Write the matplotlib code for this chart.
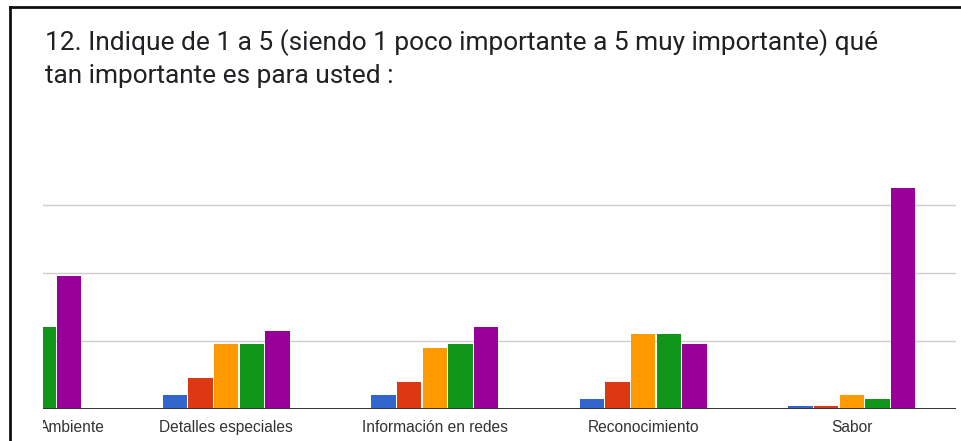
import matplotlib

matplotlib.use("Agg")
import matplotlib.pyplot as plt  # noqa: E402
import matplotlib.transforms as mtransforms  # noqa: E402
import numpy as np  # noqa: E402
from matplotlib.lines import Line2D  # noqa: E402

TITLE_LINES = [
    "12. Indique de 1 a 5 (siendo 1 poco importante a 5 muy importante) qué",
    "tan importante es para usted :",
]
CATEGORIES = ["Ambiente", "Detalles especiales", "Información en redes", "Reconocimiento", "Sabor"]
RATINGS = ["1", "2", "3", "4", "5"]
# responses per rating for each category; nan = scrolled out of the chart area
COUNTS = {
    "1": [np.nan, 4, 4, 3, 1],
    "2": [np.nan, 9, 8, 8, 1],
    "3": [np.nan, 19, 18, 22, 4],
    "4": [24, 19, 19, 22, 3],
    "5": [39, 23, 24, 19, 65],
}
COLORS = ["#3366cc", "#dc3912", "#ff9900", "#109618", "#990099"]
GRID_VALUES = [20, 40, 60]

W, H = 962, 441
fig = plt.figure(figsize=(W / 100, H / 100), dpi=100)

# frame lines (top and left)
fig.add_artist(Line2D([10 / W, 1], [1 - 7 / H, 1 - 7 / H], color="#111111", lw=2.0))
fig.add_artist(Line2D([10 / W, 10 / W], [0, 1 - 7 / H], color="#111111", lw=2.0))

title_kw = dict(fontsize=18.9, family=["Roboto", "DejaVu Sans"], color="#202124", va="baseline")
fig.text(45 / W, 1 - 50 / H, TITLE_LINES[0], **title_kw)
fig.text(45 / W, 1 - 83 / H, TITLE_LINES[1], **title_kw)

ax = fig.add_axes([43 / W, 1 - 409 / H, 913 / W, 238 / H])
x = np.arange(len(CATEGORIES))
slot = 0.1233
for k, (rating, color) in enumerate(zip(RATINGS, COLORS)):
    ax.bar(x + (k - 2) * slot, COUNTS[rating], width=slot * 0.95, color=color,
           edgecolor="none", zorder=3)

for g in GRID_VALUES:
    ax.axhline(g, color="#cccccc", lw=1.0, zorder=1)
ax.axhline(0, color="#333333", lw=1.4, zorder=4)

ax.set_xlim(0.121, 4.5)
ax.set_ylim(0, 70)
ax.set_xticks([])
ax.set_yticks([])
for s in ax.spines.values():
    s.set_visible(False)

# category labels, clipped to the chart's horizontal extent
clip = mtransforms.TransformedBbox(mtransforms.Bbox([[0, -0.5], [1, 1]]), ax.transAxes)
trans = mtransforms.blended_transform_factory(ax.transData, ax.transAxes)
label_x = [0.418, 1, 2, 3, 4]
label_ha = ["right", "center", "center", "center", "center"]
for xi, ha, name in zip(label_x, label_ha, CATEGORIES):
    t = ax.text(xi, -0.0786, name, transform=trans, ha=ha, va="center",
                fontsize=11.2, family="Liberation Sans", color="#333333",
                clip_on=True)
    t.set_clip_box(clip)

fig.savefig("out.png", dpi=100)
